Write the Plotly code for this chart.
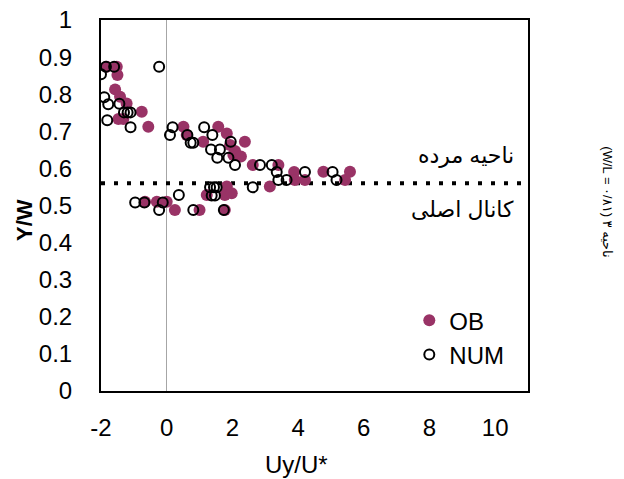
import plotly.graph_objects as go

# OB (observed) data
ob_x = [-1.83, -1.52, -1.50, -1.57, -1.42, -1.22, -0.76, -1.47, -1.32, -0.56,
        0.51, 0.61, 1.11, 1.57, 1.83, 1.93, 2.38, 2.08, 2.03, 2.26,
        2.62, 3.40, 3.88, 4.21, 3.90, 4.77, 5.58, 5.43, 3.14, 1.83,
        1.77, 1.98, 1.22, -0.30, 0.0, -0.66, 0.25, 1.00, 1.77]
ob_y = [0.874, 0.874, 0.852, 0.813, 0.793, 0.775, 0.753, 0.733, 0.733, 0.712,
        0.712, 0.690, 0.672, 0.712, 0.694, 0.663, 0.672, 0.647, 0.636, 0.632,
        0.609, 0.609, 0.590, 0.569, 0.569, 0.591, 0.591, 0.569, 0.551, 0.551,
        0.528, 0.533, 0.528, 0.510, 0.510, 0.510, 0.488, 0.488, 0.488]

# NUM (numerical) data
num_x = [-2.0, -1.85, -1.60, -0.23, -1.90, -1.78, -1.44, -1.30, -1.19, -1.10,
         -1.81, -1.10, 0.18, 0.10, 0.63, 0.73, 0.81, 1.14, 1.39, 1.95,
         1.35, 1.62, 1.54, 1.88, 2.08, 2.84, 3.20, 3.35, 3.40, 3.65,
         4.21, 5.05, 5.17, 1.32, 1.44, 1.52, 1.37, 1.47, 2.62, 0.37,
         -0.96, -0.68, -0.12, -0.23, 0.81, 1.74]
num_y = [0.854, 0.874, 0.874, 0.874, 0.792, 0.773, 0.774, 0.751, 0.751, 0.751,
         0.730, 0.711, 0.711, 0.690, 0.690, 0.669, 0.669, 0.711, 0.690, 0.672,
         0.651, 0.651, 0.629, 0.629, 0.609, 0.609, 0.609, 0.590, 0.569, 0.569,
         0.590, 0.590, 0.569, 0.549, 0.549, 0.549, 0.527, 0.527, 0.549, 0.528,
         0.508, 0.508, 0.508, 0.488, 0.488, 0.488]

# Dividing line between dead zone and main channel
divide_x = [-2, 11]
divide_y = [0.56, 0.56]

x_ticks = [-2, 0, 2, 4, 6, 8, 10]
y_ticks = [0, 0.1, 0.2, 0.3, 0.4, 0.5, 0.6, 0.7, 0.8, 0.9, 1]
y_labels = ["0", "0.1", "0.2", "0.3", "0.4", "0.5", "0.6", "0.7", "0.8", "0.9", "1"]

FONT = "Liberation Sans, Arial, DejaVu Sans, sans-serif"
OB_COLOR = "#993366"

fig = go.Figure()
fig.add_trace(go.Scatter(
    x=divide_x, y=divide_y, mode="lines", showlegend=False, hoverinfo="skip",
    line=dict(color="black", width=4, dash="4px,9px")))
fig.add_trace(go.Scatter(
    x=ob_x, y=ob_y, mode="markers", name="OB",
    marker=dict(symbol="circle", size=12, color=OB_COLOR, line=dict(width=0))))
fig.add_trace(go.Scatter(
    x=num_x, y=num_y, mode="markers", name="NUM",
    marker=dict(symbol="circle-open", size=10, color="black", line=dict(width=2))))

fig.update_layout(
    width=624, height=479,
    margin=dict(l=101, r=96, t=20, b=88, autoexpand=False),
    paper_bgcolor="white", plot_bgcolor="white",
    font=dict(family=FONT, size=24, color="black"),
    showlegend=True,
    legend=dict(x=0.722, y=0.25, xanchor="left", yanchor="top",
                bgcolor="rgba(0,0,0,0)", font=dict(size=24, family=FONT),
                itemwidth=30, tracegroupgap=0),
)
fig.update_xaxes(
    range=[-2, 11], tickvals=x_ticks, ticktext=[str(v) for v in x_ticks],
    showgrid=False, zeroline=True, zerolinecolor="#a6a6a6", zerolinewidth=1,
    showline=True, mirror="all", linecolor="black", linewidth=2, automargin=False,
    ticks="", ticklabelstandoff=14, ticklabeloverflow="allow",
    tickfont=dict(size=24, family=FONT))
fig.update_yaxes(
    range=[0, 1], tickvals=y_ticks, ticktext=y_labels,
    showgrid=False, zeroline=False, automargin=False,
    showline=True, mirror="all", linecolor="black", linewidth=2,
    ticks="", ticklabelstandoff=22, ticklabeloverflow="allow",
    tickfont=dict(size=24, family=FONT))

annos = [
    dict(text="<b>Y/W</b>", x=-0.178, y=0.461, textangle=-90, font=dict(size=22),
         xanchor="center"),
    dict(text="Uy/U*", x=0.459, y=-0.199, font=dict(size=24), xanchor="center"),
    dict(text="ناحیه مرده", x=0.972, y=0.636, font=dict(size=22), xanchor="right"),
    dict(text="کانال اصلی", x=0.972, y=0.488, font=dict(size=22), xanchor="right"),
    dict(text="(W/L = ۰/۸۱) ۳ ناحیه", x=1.187, y=0.509, textangle=90,
         font=dict(size=13), xanchor="center"),
]
for a in annos:
    fig.add_annotation(xref="paper", yref="paper", showarrow=False,
                       yanchor="middle", **a)

fig.write_html("out.html",
               config={"displayModeBar": False},
               post_script="document.body.style.margin='0';"
                           "document.body.style.overflow='hidden';")
